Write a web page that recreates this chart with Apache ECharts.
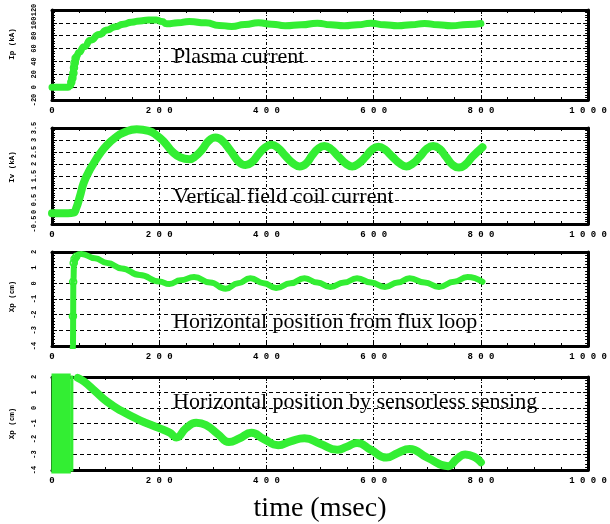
<!DOCTYPE html>
<html><head><meta charset="utf-8">
<script src="https://cdn.jsdelivr.net/npm/echarts@6/dist/echarts.min.js"></script>
<style>html,body{margin:0;padding:0;background:#fff}#c{width:610px;height:524px}</style>
</head><body><div id="c"></div>
<script>
// ---- data (time in msec) ----
const xTickLabels = [0, 200, 400, 600, 800, 1000];
const ipYTicks = [-20, 0, 20, 40, 60, 80, 100, 120];
const ivYTicks = [-0.5, 0, 0.5, 1, 1.5, 2, 2.5, 3, 3.5];
const xpYTicks = [-4, -3, -2, -1, 0, 1, 2];

// Plasma current Ip (kA)
const ipData = [[0,0],[20,0],[30,0],[34,2],[38,15],[42,35],[46,48],[50,54],[60,63],[72,73],[88,82],[103,89],[118,94],[133,98],[148,101],[164,103],[180,104.5],[195,104.5],[205,102],[214,98.5],[235,100],[256,102],[287,100],[312,96],[335,94.5],[360,97.5],[385,100],[410,98],[435,95.5],[465,97],[495,99.5],[520,97],[545,95.5],[570,97],[595,99.5],[620,97],[645,95.5],[670,97],[695,99],[720,97],[745,95.5],[775,97.5],[800,99]];
const ipRiseMarks = [[36,8],[38,14],[40,22],[41,30],[42,38],[44,45]];

// Vertical field coil current Iv (kA)
const ivData = [[0,-0.05],[30,-0.05],[40,-0.03],[45,0.15],[52,0.65],[59,1.2],[68,1.65],[77,2.0],[90,2.45],[103,2.8],[118,3.1],[133,3.3],[158,3.45],[180,3.38],[195,3.2],[210,2.9],[225,2.5],[240,2.27],[256,2.2],[268,2.33],[280,2.6],[293,2.98],[305,3.1],[317,2.98],[333,2.55],[349,2.08],[361,1.96],[373,2.08],[385,2.4],[397,2.68],[409,2.8],[421,2.68],[435,2.35],[450,2.02],[462,1.9],[474,2.02],[485,2.35],[496,2.63],[508,2.75],[520,2.63],[535,2.3],[548,2.02],[560,1.9],[572,2.02],[585,2.3],[597,2.6],[609,2.72],[621,2.6],[635,2.3],[649,2.02],[661,1.9],[673,2.02],[686,2.3],[699,2.63],[711,2.75],[723,2.63],[735,2.3],[747,1.97],[759,1.85],[771,1.97],[784,2.3],[803,2.7]];

// Horizontal position from flux loop Xp (cm)
const xpFluxData = [[38,-6],[39,-4],[40,0.2],[41,1.2],[44,1.6],[50,1.85],[55,1.88],[80,1.6],[103,1.3],[130,0.95],[164,0.53],[200,0.12],[219,-0.05],[240,0.2],[265,0.4],[295,0.05],[324,-0.35],[347,0],[370,0.33],[395,0],[418,-0.3],[445,0],[471,0.33],[495,0.05],[519,-0.23],[545,0.05],[569,0.33],[595,0.05],[621,-0.23],[645,0.05],[667,0.33],[695,0.05],[722,-0.23],[750,0.1],[775,0.4],[803,0.1]];
const xpFluxRiseMarks = [[39,-2.1],[39.5,0.1],[40.5,1.3],[42,1.55],[45,1.7]];

// Horizontal position by sensorless sensing Xp (cm)
const xpSensorNoise = [[5,-9],[6,9],[7,-9],[8,9],[9,-9],[10,9],[11,-9],[12,9],[13,-9],[14,9],[15,-9],[16,9],[17,-9],[18,9],[19,-9],[20,9],[21,-9],[22,9],[23,-9],[24,9],[25,-9],[26,9],[27,-9],[28,9],[29,-9]];
const xpSensorSpike = [[37,-9],[37.2,9]];
const xpSensorData = [[48,1.94],[60,1.7],[80,1.1],[103,0.4],[130,-0.2],[164,-0.8],[200,-1.3],[220,-1.6],[232,-1.9],[250,-1.3],[269,-0.95],[287,-1.1],[310,-1.7],[330,-2.2],[350,-1.95],[372,-1.6],[395,-2.0],[422,-2.4],[445,-2.15],[471,-1.95],[500,-2.3],[532,-2.7],[550,-2.5],[569,-2.25],[595,-2.7],[624,-3.2],[645,-2.9],[667,-2.65],[700,-3.2],[739,-3.75],[755,-3.3],[771,-3.0],[790,-3.2],[800,-3.5]];

const annotations = ['Plasma current', 'Vertical field coil current', 'Horizontal position from flux loop', 'Horizontal position by sensorless sensing'];
const yNames = ['Ip (kA)', 'Iv (kA)', 'Xp (cm)', 'Xp (cm)'];

// ---- layout / style ----
const GREEN = '#33ee33';
const panels = [
  {top: 10, height: 90, ticks: ipYTicks, namePad: 22, ann: 46},
  {top: 128, height: 96, ticks: ivYTicks, namePad: 18, ann: 186},
  {top: 252, height: 94, ticks: xpYTicks, namePad: 5, ann: 311},
  {top: 377, height: 102, ticks: xpYTicks, namePad: 0, ann: 391}
];
const LEFT = 51, WIDTH = 543;
const monoFont = '"Liberation Mono", "DejaVu Sans Mono", monospace';

const grids = [], xAxes = [], yAxes = [], series = [], graphics = [];
panels.forEach((p, i) => {
  grids.push({left: LEFT, top: p.top, width: WIDTH, height: p.height, containLabel: false});
  const xmin = xTickLabels[0], xmax = xTickLabels[xTickLabels.length - 1];
  const xint = xTickLabels[1] - xTickLabels[0];
  const ymin = p.ticks[0], ymax = p.ticks[p.ticks.length - 1], yint = p.ticks[1] - p.ticks[0];
  const axisLine = {show: true, onZero: false, lineStyle: {color: '#000', width: 3}};
  xAxes.push({
    type: 'value', gridIndex: i, position: 'bottom', min: xmin, max: xmax, interval: xint,
    axisLine, axisTick: {show: true, inside: true, length: 4, lineStyle: {color: '#000', width: 1}},
    minorTick: {show: true, splitNumber: 4, length: 3, lineStyle: {color: '#000', width: 1}},
    axisLabel: {show: true, margin: 6, color: '#000', fontFamily: monoFont, fontWeight: 'bold', fontSize: 9,
      showMinLabel: true, showMaxLabel: true, formatter: v => String(v).split('').join(' ')},
    splitLine: {show: true, lineStyle: {color: '#000', width: 1, type: [3, 2, 1, 2]}},
    name: i === 3 ? 'time (msec)' : '', nameLocation: 'middle', nameGap: 25,
    nameTextStyle: {fontFamily: '"Liberation Serif", "Times New Roman", serif', fontSize: 28, color: '#000'}
  });
  xAxes.push({
    type: 'value', gridIndex: i, position: 'top', min: xmin, max: xmax, interval: xint,
    axisLine, axisTick: {show: true, inside: true, length: 4, lineStyle: {color: '#000', width: 1}},
    minorTick: {show: true, splitNumber: 4, length: 3, lineStyle: {color: '#000', width: 1}},
    axisLabel: {show: false}, splitLine: {show: false}
  });
  yAxes.push({
    type: 'value', gridIndex: i, position: 'left', min: ymin, max: ymax, interval: yint,
    axisLine, axisTick: {show: true, inside: true, length: 5, lineStyle: {color: '#000', width: 1}},
    minorTick: {show: true, splitNumber: 5, length: 3, lineStyle: {color: '#000', width: 1}},
    axisLabel: {show: true, rotate: 90, margin: 14, color: '#000', fontFamily: monoFont, fontWeight: 'bold', fontSize: 7,
      hideOverlap: false, showMinLabel: true, showMaxLabel: true},
    splitLine: {show: true, lineStyle: {color: '#000', width: 1, type: [4, 3]}},
    name: yNames[i], nameLocation: 'middle', nameRotate: 90, nameGap: 36,
    nameTextStyle: {fontFamily: monoFont, fontWeight: 'bold', fontSize: 7.5, color: '#000', padding: [0, 0, 0, p.namePad]}
  });
  yAxes.push({
    type: 'value', gridIndex: i, position: 'right', min: ymin, max: ymax, interval: yint,
    axisLine, axisTick: {show: true, inside: true, length: 5, lineStyle: {color: '#000', width: 1}},
    minorTick: {show: true, splitNumber: 5, length: 3, lineStyle: {color: '#000', width: 1}},
    axisLabel: {show: false}, splitLine: {show: false}
  });
  graphics.push({type: 'text', left: 173, top: p.ann, z: 10,
    style: {text: annotations[i], font: '22px "Liberation Serif", "Times New Roman", serif', fill: '#000'}});
});

function lineSeries(data, idx, width, smooth, mono) {
  return {type: 'line', data, xAxisIndex: 2 * idx, yAxisIndex: 2 * idx, showSymbol: false, symbol: 'none',
    smooth: smooth, smoothMonotone: mono ? 'x' : undefined, clip: true, z: 3,
    lineStyle: {color: GREEN, width, cap: 'round', join: 'round'}};
}
function markSeries(data, idx) {
  return {type: 'scatter', data, xAxisIndex: 2 * idx, yAxisIndex: 2 * idx, symbol: 'circle', symbolSize: 7, z: 4,
    itemStyle: {color: 'rgba(0,0,0,0)', borderColor: GREEN, borderWidth: 1.5, opacity: 1}, clip: true};
}
series.push(lineSeries(ipData, 0, 7, 0.6, true));
series.push(markSeries(ipRiseMarks, 0));
series.push(lineSeries(ivData, 1, 8, 0.5, false));
series.push(lineSeries(xpFluxData, 2, 6, 0.5, true));
series.push(markSeries(xpFluxRiseMarks, 2));
series.push(lineSeries(xpSensorNoise, 3, 7, false, false));
series.push(lineSeries(xpSensorSpike, 3, 3, false, false));
series.push(lineSeries(xpSensorData, 3, 8, 0.5, false));

const chart = echarts.init(document.getElementById('c'), null, {renderer: 'canvas'});
chart.setOption({
  animation: false, backgroundColor: '#fff',
  grid: grids, xAxis: xAxes, yAxis: yAxes, series, graphic: graphics
});
</script></body></html>
